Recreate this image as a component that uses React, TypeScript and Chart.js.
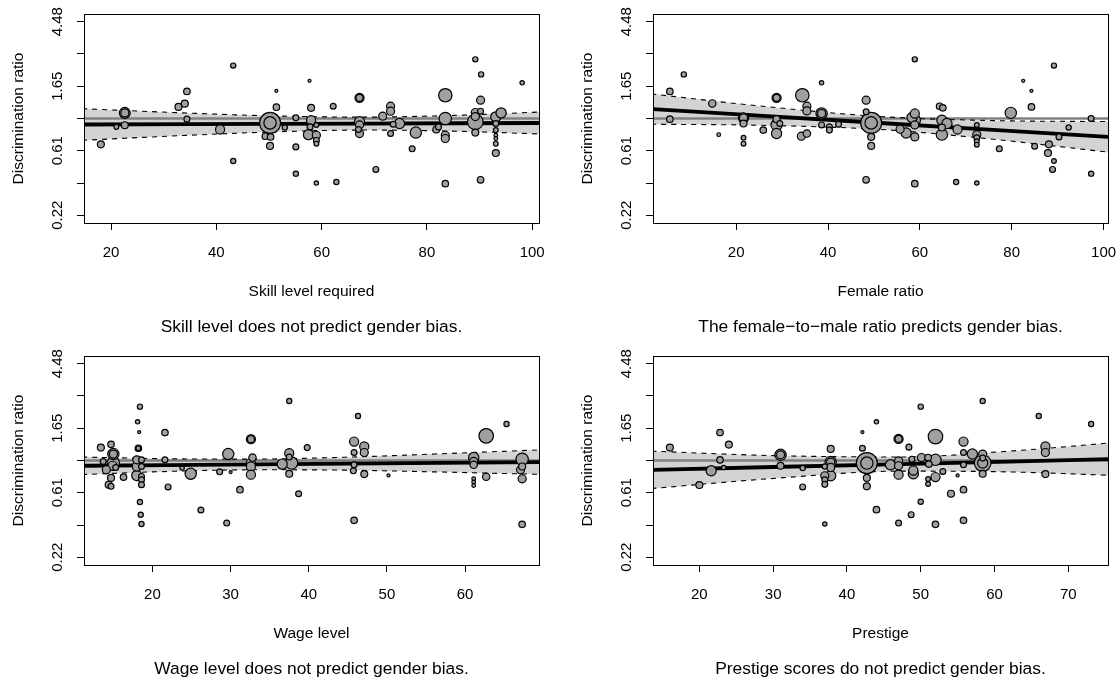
import React, { useEffect, useRef } from "react";
import { Chart, registerables } from "chart.js";

Chart.register(...registerables);

const FONT = "'Liberation Sans', Arial, Helvetica, sans-serif";
Chart.defaults.font.family = FONT;
Chart.defaults.color = "#000";

// ---------------- shared y axis (log discrimination ratio) ----------------
const Y_TICKS = [-1.5, -1, -0.5, 0, 0.5, 1, 1.5];
const Y_TICK_LABELS = ["0.22", "", "0.61", "", "1.65", "", "4.48"];
const Y_LIM = [-1.5, 1.5];
const REF_VALUE = 0; // log(1): no discrimination
const Y_TITLE = "Discrimination ratio";

// ---------------- Panel 1: skill level ----------------
const skillX = [
  18.05, 21.0, 22.6, 22.6, 22.6, 32.8, 34.0, 34.4, 34.4, 40.7,
  43.2, 43.2, 50.2, 50.2, 49.3, 50.3, 50.2, 51.4, 51.4, 53.0,
  55.1, 55.1, 55.1, 57.7, 58.0, 58.0, 57.8, 57.5, 59.0, 59.0,
  59.0, 59.0, 59.0, 62.2, 62.8, 67.2, 67.2, 67.2, 67.2, 67.2,
  67.0, 70.3, 71.6, 73.1, 73.1, 73.1, 73.6, 74.8, 77.2, 77.9,
  81.8, 82.2, 83.5, 83.5, 83.5, 83.5, 83.5, 89.2, 90.3, 90.2,
  89.2, 90.2, 89.2, 89.2, 89.2, 90.2, 93.1, 94.1, 93.1, 93.1,
  93.1, 93.1, 93.1, 93.1, 98.1,
];
const skillY = [
  -0.40, -0.13, 0.087, 0.087, -0.104, 0.18, 0.23, 0.42, -0.01, -0.17,
  0.82, -0.66, -0.068, -0.068, -0.275, -0.285, -0.425, 0.43, 0.175, -0.14,
  0.01, -0.44, -0.855, 0.585, 0.165, -0.026, -0.13, -0.25, -0.26, -0.34,
  -0.39, -0.10, -1.0, 0.19, -0.985, 0.32, 0.32, -0.05, -0.10, -0.233,
  -0.17, -0.79, 0.036, 0.19, 0.113, -0.233, -0.089, -0.078, -0.47, -0.218,
  -0.17, -0.13, 0.36, 0.0, -0.26, -0.31, -1.01, 0.917, 0.684, 0.284,
  0.093, 0.113, -0.053, 0.03, -0.218, -0.95, 0.025, 0.087, -0.078, -0.18,
  -0.26, -0.31, -0.39, -0.535, 0.553,
];
const skillN = [
  3.5, 2.5, 5.3, 4, 3.5, 3.5, 3.5, 3.3, 3, 4.5,
  2.7, 2.7, 10, 6, 3.3, 3.3, 3.5, 1.7, 3.3, 2.7,
  3, 3, 2.7, 1.7, 3.5, 4.5, 3, 5, 4, 3,
  2.5, 2.5, 2.3, 3, 2.7, 4.5, 3.5, 5, 4, 4,
  3, 3, 4, 4, 4, 3, 3, 5, 3, 5.5,
  3.5, 3, 6.5, 6, 4, 4, 3.3, 2.7, 2.7, 4,
  4, 3, 7.5, 4, 3.5, 3.3, 5, 5, 3, 2.5,
  2, 2, 2.5, 3.5, 2.3,
];
const skillTicks = [20, 40, 60, 80, 100];
const skillBandX = [14.5, 35, 50, 68, 85, 101.5];
const skillFit = [-0.093, -0.088, -0.084, -0.079, -0.074, -0.07];
const skillHalfCI = [0.245, 0.171, 0.126, 0.1, 0.122, 0.17];

// ---------------- Panel 2: female ratio ----------------
const femaleX = [
  5.56, 5.56, 8.6, 14.8, 16.2, 21.6, 21.6, 21.6, 21.6, 21.6,
  25.9, 28.8, 28.8, 28.8, 28.8, 28.8, 29.5, 34.4, 34.2, 35.4,
  35.4, 35.4, 38.6, 38.6, 38.6, 38.6, 40.3, 40.3, 42.3, 48.3,
  48.3, 49.4, 49.4, 49.4, 49.4, 48.3, 55.7, 57.0, 58.9, 58.3,
  58.9, 58.9, 58.9, 58.9, 58.9, 64.3, 65.0, 64.8, 65.9, 64.8,
  64.8, 67.9, 68.2, 72.4, 72.4, 72.4, 72.4, 72.4, 72.4, 77.3,
  79.8, 82.5, 84.3, 84.3, 85.0, 88.1, 87.9, 89.2, 89.2, 88.9,
  92.4, 90.3, 97.3, 97.3,
];
const femaleY = [
  0.42, -0.01, 0.684, 0.233, -0.25, 0.01, 0.01, -0.078, -0.30, -0.39,
  -0.18, 0.32, 0.32, -0.01, -0.10, -0.233, -0.078, 0.36, -0.275, -0.233,
  0.19, 0.118, 0.553, 0.077, 0.077, -0.10, -0.13, -0.18, -0.089, 0.284,
  0.103, -0.068, -0.068, -0.285, -0.425, -0.95, -0.166, -0.224, 0.077, 0.015,
  -0.026, -0.10, -0.285, 0.917, -1.01, 0.19, 0.165, -0.026, -0.078, -0.14,
  -0.25, -0.985, -0.17, -0.10, -0.25, -0.30, -0.353, -0.405, -1.0, -0.47,
  0.087, 0.585, 0.43, 0.18, -0.43, -0.40, -0.535, 0.82, -0.66, -0.79,
  -0.14, -0.285, 0.0, -0.855,
];
const femaleN = [
  3.3, 3.3, 2.7, 3.7, 2, 5, 4, 3.5, 2.5, 2.5,
  3.3, 4.5, 3.5, 3.5, 5.5, 5, 3, 6.5, 4, 3.7,
  4, 4, 2.3, 5.5, 4, 3, 3, 3, 3, 4,
  3, 10, 6, 3.5, 3.5, 3.3, 4, 5, 4.5, 5,
  5.5, 4, 4, 2.7, 3.3, 3.3, 3.3, 5, 5, 3.5,
  5.5, 2.7, 4.5, 2.5, 4, 3, 2.5, 2.5, 2.3, 3,
  5.5, 1.7, 1.7, 3.3, 3, 3.5, 3.5, 2.7, 2.5, 3,
  2.7, 3, 3, 2.7,
];
const femaleTicks = [20, 40, 60, 80, 100];
const femaleBandX = [1.5, 25, 51.4, 75, 101.3];
const femaleFit = [0.146, 0.045, -0.07, -0.173, -0.286];
const femaleHalfCI = [0.235, 0.15, 0.1, 0.142, 0.238];

// ---------------- Panel 3: wage level ----------------
const wageX = [
  13.4, 14.7, 15.0, 15.0, 15.0, 14.1, 14.7, 14.4, 14.7, 15.3,
  14.9, 13.7, 16.3, 18.4, 18.1, 18.3, 18.2, 18.2, 18.0, 18.0,
  18.0, 18.6, 18.6, 18.6, 18.6, 18.6, 18.4, 18.5, 18.6, 21.6,
  21.6, 22.0, 23.8, 24.9, 26.2, 28.6, 29.7, 30.0, 29.5, 31.2,
  32.6, 32.6, 32.8, 32.6, 32.6, 32.6, 37.5, 37.5, 37.5, 37.5,
  36.6, 37.8, 38.7, 39.8, 45.8, 45.8, 45.8, 45.7, 46.3, 47.1,
  47.1, 47.1, 45.8, 50.2, 61.1, 61.1, 61.1, 61.1, 61.1, 61.1,
  62.7, 62.7, 65.3, 67.3, 67.1, 67.3, 67.3, 67.3,
];
const wageY = [
  0.20, 0.25, 0.10, 0.10, -0.04, -0.144, -0.27, -0.376, -0.40, -0.108,
  -0.082, -0.015, -0.257, 0.835, 0.60, 0.44, 0.19, 0.19, 0.01, -0.093,
  -0.232, 0.01, -0.093, -0.247, -0.30, -0.376, -0.643, -0.84, -0.985, 0.433,
  0.01, -0.41, -0.118, -0.206, -0.767, -0.175, 0.10, -0.18, -0.97, -0.453,
  0.33, 0.33, 0.046, -0.04, -0.093, -0.22, 0.923, 0.114, 0.053, -0.206,
  -0.056, -0.04, -0.515, 0.20, 0.294, 0.124, -0.067, -0.16, 0.69, 0.217,
  0.124, -0.21, -0.928, -0.232, 0.046, -0.015, -0.067, -0.283, -0.334, -0.387,
  0.382, -0.252, 0.567, 0.02, -0.144, -0.093, -0.283, -0.99,
];
const wageN = [
  3.5, 3.3, 5.5, 4, 6, 4, 3.5, 3.5, 3, 3,
  4.5, 3, 3.3, 2.7, 2.3, 1.7, 3.3, 2.5, 4, 4.5,
  5, 3, 3, 3, 3, 3, 2.7, 2.7, 2.7, 3.3,
  3, 3, 2.3, 5.5, 3, 3, 5.5, 1.7, 3, 3.3,
  4.5, 3.5, 3.7, 4.5, 4.5, 4.5, 2.7, 4.5, 3, 3.5,
  5, 6, 3, 3, 4.5, 3, 3, 3, 2.7, 4.5,
  4, 3.5, 3.3, 1.7, 5, 4, 3.7, 2, 2, 2,
  7, 3.7, 2.7, 6, 4, 3.5, 4, 3.3,
];
const wageTicks = [20, 30, 40, 50, 60];
const wageBandX = [11, 22, 33, 45, 57, 69.6];
const wageFit = [-0.082, -0.071, -0.061, -0.049, -0.037, -0.025];
const wageHalfCI = [0.136, 0.098, 0.083, 0.101, 0.142, 0.19];

// ---------------- Panel 4: prestige ----------------
const prestigeX = [
  16.0, 20.0, 21.6, 22.8, 22.8, 23.3, 24.0, 31.0, 31.0, 31.0,
  34.0, 34.0, 37.8, 37.8, 37.8, 37.8, 37.8, 37.0, 37.0, 37.0,
  37.0, 37.0, 42.7, 42.7, 42.7, 42.7, 42.1, 42.1, 44.0, 44.0,
  45.9, 47.0, 47.0, 47.0, 47.0, 47.0, 47.0, 48.4, 48.8, 49.0,
  49.0, 48.7, 50.0, 50.0, 50.1, 51.0, 51.1, 51.0, 51.0, 52.0,
  52.0, 52.0, 52.0, 53.0, 54.1, 55.0, 55.8, 55.8, 55.8, 55.8,
  55.8, 57.0, 58.4, 58.4, 58.4, 58.4, 58.4, 58.4, 66.0, 66.9,
  66.9, 66.9, 73.1,
];
const prestigeY = [
  0.20, -0.38, -0.16, 0.433, 0.01, -0.108, 0.247, 0.088, 0.088, -0.082,
  -0.118, -0.41, 0.18, -0.025, -0.025, -0.108, -0.237, -0.237, -0.093, -0.30,
  -0.37, -0.985, -0.04, -0.04, -0.27, -0.40, 0.19, 0.44, 0.60, -0.762,
  -0.067, 0.335, 0.335, -0.005, -0.082, -0.22, -0.97, 0.207, 0.02, -0.155,
  -0.206, -0.84, 0.835, -0.64, 0.046, 0.046, -0.056, -0.288, -0.365, 0.371,
  0.01, -0.257, -0.99, -0.17, -0.515, -0.232, 0.294, 0.124, -0.067, -0.453,
  -0.928, 0.10, 0.923, 0.10, -0.04, -0.04, -0.206, 0.037, 0.69, 0.217,
  0.124, -0.21, 0.567,
];
const prestigeN = [
  3.5, 3.5, 5, 3.3, 3.3, 2.3, 3.5, 5.5, 4, 3.5,
  2.7, 3, 3.5, 5.5, 4, 4, 5, 4, 2.7, 3,
  3, 2.3, 10, 6, 3.5, 3.5, 3, 1.7, 2.3, 3.3,
  5, 4.5, 3.5, 4, 4, 4.5, 3, 3, 3, 4.5,
  5, 3, 2.7, 2.7, 4, 3.3, 3.3, 2.5, 2.5, 7,
  5.5, 4.5, 3.3, 3, 3.5, 1.7, 4.5, 3, 3, 3.3,
  3.3, 5, 2.7, 4, 8, 5, 3.5, 3, 2.7, 4.5,
  4, 3.5, 2.7,
];
const prestigeTicks = [20, 30, 40, 50, 60, 70];
const prestigeBandX = [13.5, 30, 47.3, 62, 75.6];
const prestigeFit = [-0.145, -0.101, -0.055, -0.016, 0.021];
const prestigeHalfCI = [0.29, 0.177, 0.11, 0.161, 0.25];

// ---------------- panel descriptions ----------------
type PanelSpec = {
  xs: number[]; ys: number[]; ns: number[]; ticks: number[];
  bandX: number[]; fit: number[]; half: number[];
  xTitle: string; sub: string;
  left: number; top: number; width: number; padRight: number;
};

const PANELS: PanelSpec[] = [
  { xs: skillX, ys: skillY, ns: skillN, ticks: skillTicks, bandX: skillBandX, fit: skillFit, half: skillHalfCI,
    xTitle: "Skill level required", sub: "Skill level does not predict gender bias.",
    left: 0, top: 0, width: 559, padRight: 20 },
  { xs: femaleX, ys: femaleY, ns: femaleN, ticks: femaleTicks, bandX: femaleBandX, fit: femaleFit, half: femaleHalfCI,
    xTitle: "Female ratio", sub: "The female\u2212to\u2212male ratio predicts gender bias.",
    left: 569, top: 0, width: 550, padRight: 11 },
  { xs: wageX, ys: wageY, ns: wageN, ticks: wageTicks, bandX: wageBandX, fit: wageFit, half: wageHalfCI,
    xTitle: "Wage level", sub: "Wage level does not predict gender bias.",
    left: 0, top: 342, width: 559, padRight: 20 },
  { xs: prestigeX, ys: prestigeY, ns: prestigeN, ticks: prestigeTicks, bandX: prestigeBandX, fit: prestigeFit, half: prestigeHalfCI,
    xTitle: "Prestige", sub: "Prestige scores do not predict gender bias.",
    left: 569, top: 342, width: 550, padRight: 11 },
];

const PANEL_H = 341;
const AREA_TOP = 14;
const AREA_BOTTOM = 223;
const Y_AXIS_W = 84;
const SUB_FONT = 17.4;
const SUB_LH = 1.15;
const SUB_PAD = { top: 8, bottom: 4 };
const X_AXIS_H = PANEL_H - AREA_BOTTOM - (SUB_FONT * SUB_LH + SUB_PAD.top + SUB_PAD.bottom);
const POINT_SCALE = 1.08;

const boxPlugin = {
  id: "rbox",
  afterDraw(chart: any) {
    const { ctx, chartArea } = chart;
    const l = Math.round(chartArea.left), t = Math.round(chartArea.top);
    const r = Math.round(chartArea.right), b = Math.round(chartArea.bottom);
    ctx.save();
    ctx.strokeStyle = "#000";
    ctx.lineWidth = 1;
    ctx.strokeRect(l + 0.5, t + 0.5, r - l, b - t);
    ctx.restore();
  },
};

function buildConfig(p: PanelSpec): any {
  const xMinData = Math.min(...p.xs), xMaxData = Math.max(...p.xs);
  const xr = xMaxData - xMinData;
  const xMin = xMinData - 0.04 * xr, xMax = xMaxData + 0.04 * xr;
  const yr = Y_LIM[1] - Y_LIM[0];
  const yMin = Y_LIM[0] - 0.04 * yr, yMax = Y_LIM[1] + 0.04 * yr;

  const pts = p.xs.map((x, i) => ({ x, y: p.ys[i], n: p.ns[i] }))
    .sort((a, b) => b.n - a.n);
  const radii = pts.map((d) => d.n * POINT_SCALE - 0.3);

  const fitLine = p.bandX.map((x, i) => ({ x, y: p.fit[i] }));
  const upper = p.bandX.map((x, i) => ({ x, y: p.fit[i] + p.half[i] }));
  const lower = p.bandX.map((x, i) => ({ x, y: p.fit[i] - p.half[i] }));
  const ref = [{ x: p.bandX[0], y: REF_VALUE }, { x: p.bandX[p.bandX.length - 1], y: REF_VALUE }];

  const tickFont = { family: FONT, size: 15 };
  const titleFont = { family: FONT, size: 15.5 };
  const grid = { display: true, drawOnChartArea: false, drawTicks: true, tickLength: 7, color: "#000", lineWidth: 1 };
  const border = { display: true, color: "#000", width: 1 };

  return {
    type: "scatter",
    data: {
      datasets: [
        { type: "scatter", data: pts, order: 0, pointRadius: radii, pointBackgroundColor: "#A0A0A0",
          pointBorderColor: "#000", pointBorderWidth: 1.2, pointHoverRadius: radii },
        { type: "line", data: fitLine, order: 1, borderColor: "#000", borderWidth: 3.8, pointRadius: 0, fill: false, tension: 0 },
        { type: "line", data: upper, order: 2, borderColor: "#000", borderWidth: 1.1, borderDash: [5, 5], pointRadius: 0, fill: false, cubicInterpolationMode: "monotone" },
        { type: "line", data: lower, order: 2, borderColor: "#000", borderWidth: 1.1, borderDash: [5, 5], pointRadius: 0, fill: false, cubicInterpolationMode: "monotone" },
        { type: "line", data: ref, order: 3, borderColor: "#808080", borderWidth: 2.6, pointRadius: 0, fill: false },
        { type: "line", data: upper, order: 4, borderWidth: 0, borderColor: "rgba(0,0,0,0)", pointRadius: 0,
          fill: "+1", backgroundColor: "#D3D3D3", cubicInterpolationMode: "monotone" },
        { type: "line", data: lower, order: 4, borderWidth: 0, borderColor: "rgba(0,0,0,0)", pointRadius: 0,
          fill: false, cubicInterpolationMode: "monotone" },
      ],
    },
    options: {
      responsive: false,
      animation: false,
      events: [],
      layout: { autoPadding: false, padding: { top: AREA_TOP, right: p.padRight, bottom: 0, left: 0 } },
      plugins: {
        legend: { display: false },
        tooltip: { enabled: false },
        title: {
          display: true, position: "bottom", fullSize: false, text: p.sub, color: "#000",
          font: { family: FONT, size: SUB_FONT, weight: "normal", lineHeight: SUB_LH },
          padding: SUB_PAD,
        },
      },
      scales: {
        x: {
          type: "linear", min: xMin, max: xMax,
          afterBuildTicks: (s: any) => { s.ticks = p.ticks.map((v) => ({ value: v })); },
          afterFit: (s: any) => { s.height = X_AXIS_H; s.paddingLeft = 0; s.paddingRight = 0; },
          grid, border,
          ticks: { color: "#000", font: tickFont, padding: 14, maxRotation: 0, autoSkip: false, callback: (v: any) => String(v) },
          title: { display: true, text: p.xTitle, color: "#000", font: titleFont, padding: { top: 0, bottom: 8.4 } },
        },
        y: {
          type: "linear", min: yMin, max: yMax,
          afterBuildTicks: (s: any) => { s.ticks = Y_TICKS.map((v) => ({ value: v })); },
          afterFit: (s: any) => { s.width = Y_AXIS_W; s.paddingTop = 0; s.paddingBottom = 0; },
          grid, border,
          ticks: {
            color: "#000", font: tickFont, padding: 5, minRotation: 90, maxRotation: 90, crossAlign: "center", autoSkip: false,
            callback: (v: any) => { const i = Y_TICKS.indexOf(v); return i >= 0 ? Y_TICK_LABELS[i] : ""; },
          },
          title: { display: true, text: Y_TITLE, color: "#000", font: titleFont, padding: { top: 9.7, bottom: 0 } },
        },
      },
    },
    plugins: [boxPlugin],
  };
}

function Panel({ spec }: { spec: PanelSpec }) {
  const ref = useRef<HTMLCanvasElement>(null);
  useEffect(() => {
    if (!ref.current) return;
    const chart = new Chart(ref.current, buildConfig(spec));
    return () => chart.destroy();
  }, [spec]);
  return (
    <canvas
      ref={ref}
      width={spec.width}
      height={PANEL_H}
      style={{ position: "absolute", left: spec.left, top: spec.top, width: spec.width, height: PANEL_H }}
    />
  );
}

export default function App() {
  return (
    <div style={{ position: "fixed", left: 0, top: 0, width: 1119, height: 682, background: "#fff", overflow: "hidden" }}>
      {PANELS.map((p, i) => (
        <Panel key={i} spec={p} />
      ))}
    </div>
  );
}
